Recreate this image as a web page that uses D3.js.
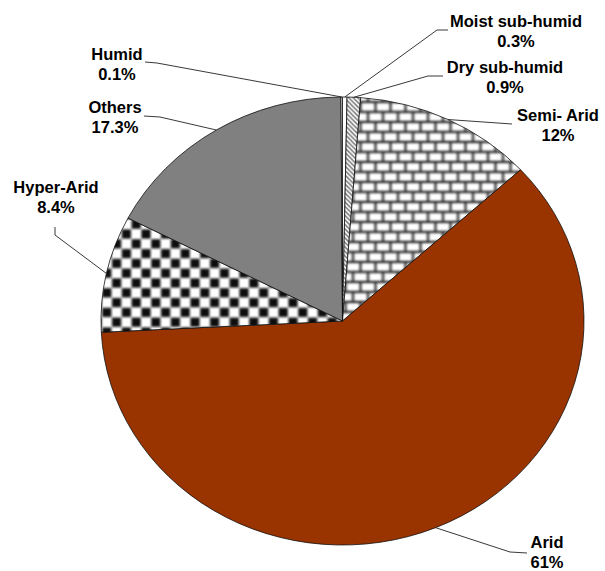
<!DOCTYPE html>
<html>
<head>
<meta charset="utf-8">
<script src="https://cdn.jsdelivr.net/npm/d3@7"></script>
<style>
  html, body { margin: 0; padding: 0; background: #fff; }
  svg { display: block; }
  text { font-family: "Liberation Sans", Arial, sans-serif; font-weight: bold; font-size: 16.5px; fill: #000; }
</style>
</head>
<body>
<svg id="chart" width="605" height="571"></svg>
<script>
// ---- data ----
const categories = ["Moist sub-humid", "Dry sub-humid", "Semi- Arid", "Arid", "Hyper-Arid", "Others", "Humid"];
const values = [0.3, 0.9, 12, 61, 8.4, 17.3, 0.1];
const valueLabels = ["0.3%", "0.9%", "12%", "61%", "8.4%", "17.3%", "0.1%"];

// ---- layout / style (not data) ----
const W = 605, H = 571;
const cx = 342.5, cy = 321, rx = 241.5, ry = 224;
const fills = ["#ffffff", "url(#diag)", "url(#brick)", "#993300", "url(#checker)", "#808080", "#ffffff"];
// label placement: text center x, first baseline y, leader elbow points (label side first)
const labelLayout = [
  { x: 516, y: 27,  leader: [[448, 30], [437, 30]] },
  { x: 505, y: 73,  leader: [[443, 76], [428, 76]] },
  { x: 558, y: 121, leader: [[512, 124]] },
  { x: 547, y: 548, leader: [[527, 553], [510, 552]] },
  { x: 56,  y: 193, leader: [[55, 227], [55, 235]] },
  { x: 115, y: 113, leader: [[144, 116], [160, 117]] },
  { x: 117, y: 60,  leader: [[145, 62], [157, 63]] }
];

const svg = d3.select("#chart");
const defs = svg.append("defs");
const k = ry / rx;

// blur filters for soft pattern edges
defs.append("filter").attr("id", "soft")
  .attr("x", "-50%").attr("y", "-50%").attr("width", "200%").attr("height", "200%")
  .append("feGaussianBlur").attr("stdDeviation", 0.8);
defs.append("filter").attr("id", "soft2")
  .attr("x", "-50%").attr("y", "-50%").attr("width", "200%").attr("height", "200%")
  .append("feGaussianBlur").attr("stdDeviation", 0.45);

// checkerboard
const cs = 9.8, cp = cs * 2;
const checker = defs.append("pattern").attr("id", "checker")
  .attr("patternUnits", "userSpaceOnUse").attr("width", cp).attr("height", cp)
  .attr("patternTransform", `scale(1,${1 / k}) translate(4.4,15.9)`);
checker.append("rect").attr("width", cp).attr("height", cp).attr("fill", "#fff");
const cg = checker.append("g").attr("filter", "url(#soft)");
for (let i = -1; i <= 2; i++) for (let j = -1; j <= 2; j++) {
  cg.append("rect").attr("x", i * cp + 0.3).attr("y", j * cp + 0.3).attr("width", cs - 0.6).attr("height", cs - 0.6).attr("fill", "#0d0d0d");
  cg.append("rect").attr("x", i * cp + cs + 0.3).attr("y", j * cp + cs + 0.3).attr("width", cs - 0.6).attr("height", cs - 0.6).attr("fill", "#0d0d0d");
}

// horizontal brick
const bw = 15, bh = 10;
const brick = defs.append("pattern").attr("id", "brick")
  .attr("patternUnits", "userSpaceOnUse").attr("width", bw).attr("height", 2 * bh)
  .attr("patternTransform", `scale(1,${1 / k})`);
brick.append("rect").attr("width", bw).attr("height", 2 * bh).attr("fill", "#fff");
const bg = brick.append("g").attr("filter", "url(#soft)").attr("stroke", "#2e2e2e").attr("stroke-width", 2.3);
for (let j = -1; j <= 2; j++) {
  bg.append("line").attr("x1", -bw).attr("x2", 2 * bw).attr("y1", j * 2 * bh + 1).attr("y2", j * 2 * bh + 1);
  bg.append("line").attr("x1", -bw).attr("x2", 2 * bw).attr("y1", j * 2 * bh + bh + 1).attr("y2", j * 2 * bh + bh + 1);
  for (let i = -1; i <= 2; i++) {
    bg.append("line").attr("x1", i * bw + 3).attr("x2", i * bw + 3).attr("y1", j * 2 * bh + 1).attr("y2", j * 2 * bh + bh + 1);
    bg.append("line").attr("x1", i * bw + 3 + bw / 2).attr("x2", i * bw + 3 + bw / 2).attr("y1", j * 2 * bh + bh + 1).attr("y2", j * 2 * bh + 2 * bh + 1);
  }
}

// light diagonal stripes
const dp = 4.5;
const diag = defs.append("pattern").attr("id", "diag")
  .attr("patternUnits", "userSpaceOnUse").attr("width", dp).attr("height", dp)
  .attr("patternTransform", `scale(1,${1 / k})`);
diag.append("rect").attr("width", dp).attr("height", dp).attr("fill", "#fff");
const dg = diag.append("g").attr("filter", "url(#soft2)").attr("stroke", "#7a7a7a").attr("stroke-width", 1.5);
for (let i = -2; i <= 2; i++) {
  dg.append("line").attr("x1", i * dp - dp).attr("y1", -dp).attr("x2", i * dp + 2 * dp).attr("y2", 2 * dp);
}

// ---- pie ----
const pie = d3.pie().sort(null).value(d => d).startAngle(0).endAngle(2 * Math.PI);
const arcs = pie(values);
const arc = d3.arc().innerRadius(0).outerRadius(rx);

const g = svg.append("g").attr("transform", `translate(${cx},${cy}) scale(1,${k})`);
g.selectAll("path.slice").data(arcs).join("path")
  .attr("class", "slice")
  .attr("d", arc)
  .attr("fill", (d, i) => fills[i])
  .attr("stroke", "#111")
  .attr("stroke-width", 0.8)
  .attr("vector-effect", "non-scaling-stroke")
  .attr("stroke-linejoin", "round");

// ---- leader lines ----
const edgePoint = d => {
  const a = (d.startAngle + d.endAngle) / 2;
  return [cx + rx * Math.sin(a), cy - ry * Math.cos(a)];
};
const line = d3.line();
svg.selectAll("path.leader").data(arcs).join("path")
  .attr("class", "leader")
  .attr("d", (d, i) => line([...labelLayout[i].leader, edgePoint(d)]))
  .attr("fill", "none")
  .attr("stroke", "#222")
  .attr("stroke-width", 0.9);

// ---- labels ----
const lbl = svg.selectAll("text.lbl").data(arcs).join("text")
  .attr("class", "lbl")
  .attr("text-anchor", "middle");
lbl.append("tspan").attr("x", (d, i) => labelLayout[i].x).attr("y", (d, i) => labelLayout[i].y)
  .text((d, i) => categories[i]);
lbl.append("tspan").attr("x", (d, i) => labelLayout[i].x).attr("y", (d, i) => labelLayout[i].y + 20)
  .text((d, i) => valueLabels[i]);
</script>
</body>
</html>
